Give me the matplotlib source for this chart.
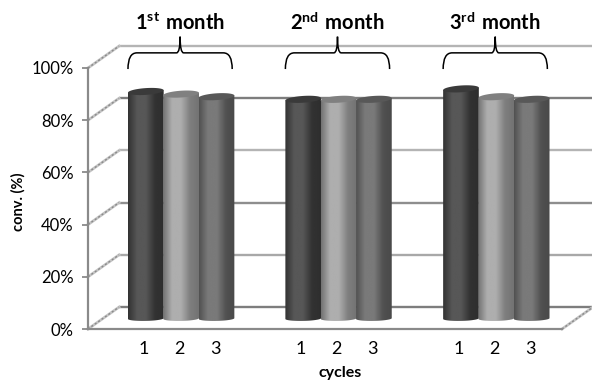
import numpy as np
import matplotlib
matplotlib.use("Agg")
import matplotlib.pyplot as plt
from matplotlib.patches import Polygon, PathPatch
from matplotlib.path import Path

plt.rcParams['font.family'] = ['Lato', 'DejaVu Sans']
plt.rcParams['mathtext.fontset'] = 'custom'
plt.rcParams['mathtext.rm'] = 'Lato'
plt.rcParams['mathtext.bf'] = 'Lato:bold'

# values
months = [r"$\mathbf{1^{st}\ month}$", r"$\mathbf{2^{nd}\ month}$", r"$\mathbf{3^{rd}\ month}$"]
cycles = ["1", "2", "3"]
month_1 = [87, 86, 85]
month_2 = [84, 84, 84]
month_3 = [88, 85, 84]
y_ticks = [0, 20, 40, 60, 80, 100]
grid_colors = ["#7d7d7d", "#a8a8a8", "#8e8e8e", "#b4b4b4", "#7d7d7d", "#b4b4b4"]

# shading of each cycle: edge, middle, far edge
shades = [(0.20, 0.34, 0.20), (0.45, 0.68, 0.50), (0.32, 0.48, 0.32)]
top_shades = ["#3a3a3a", "#808080", "#585858"]

group_x = [1.62, 6.03, 10.45]
XMAX = 13.28
DX, DZ = 0.87, 8.4      # depth of the back wall
BASE = 4.0              # floor level under the bars
ELL = 1.3               # half height of the cylinder ellipse
TILT = 0.9              # the ellipses lean up to the right


def cylinder(ax, xc, value, shade, top_color):
    x = np.array([0, 0.25, 0.5, 0.75, 1.0])
    g = np.interp(np.linspace(0, 1, 64), x, [shade[0], shade[1], shade[1], shade[2], shade[2] * 0.9])
    t = np.linspace(np.pi, 2 * np.pi, 40)
    half = 0.5
    bx = xc + half * np.cos(t)
    by = BASE + 0.9 * np.sin(t) + 0.3 * (bx - xc)
    tx = xc + half * np.cos(t[::-1])
    ty = value + BASE + TILT * (tx - xc)
    body = Polygon(np.column_stack([np.r_[bx, tx], np.r_[by, ty]]), closed=True,
                   transform=ax.transData, facecolor="none", edgecolor="none")
    ax.add_patch(body)
    im = ax.imshow(g[None, :], extent=(xc - half, xc + half, 0, 100), aspect="auto",
                   cmap="gray", vmin=0, vmax=1, zorder=3, clip_on=True)
    im.set_clip_path(body)
    # top of the cylinder
    a = np.linspace(0, 2 * np.pi, 80)
    ex = xc + half * np.cos(a)
    ey = value + BASE + ELL * np.sin(a) + TILT * (ex - xc)
    ax.add_patch(Polygon(np.column_stack([ex, ey]), closed=True, facecolor=top_color,
                         edgecolor="none", zorder=4, clip_on=False))


fig = plt.figure(figsize=(5.92, 3.81), dpi=100)
ax = fig.add_axes([88 / 592, 1 - 329 / 381, 474 / 592, 261 / 381])
ax.patch.set_alpha(0)

# back wall and side wall lines
for v, col in zip(y_ticks, grid_colors):
    ax.plot([DX, XMAX + DX], [v + DZ, v + DZ], color=col, lw=1.7, zorder=1, clip_on=False,
            solid_capstyle="butt")
    ax.plot([0, DX], [v, v + DZ], color="#c4c4c4", lw=2.0, zorder=1, clip_on=False)
    ax.plot([0, DX], [v, v + DZ], color="#8a8a8a", lw=1.0, ls=(0, (1.5, 1.5)), zorder=1, clip_on=False)
ax.plot([XMAX, XMAX + DX], [0, DZ], color="#c4c4c4", lw=2.0, zorder=1, clip_on=False)
ax.plot([XMAX, XMAX + DX], [0, DZ], color="#8a8a8a", lw=1.0, ls=(0, (1.5, 1.5)), zorder=1, clip_on=False)

series = [month_1, month_2, month_3]
tick_pos = []
tick_lab = []
for start, vals in zip(group_x, series):
    for i, v in enumerate(vals):
        cylinder(ax, start + i * 0.99, v, shades[i], top_shades[i])
        tick_pos.append(start + i * 1.0 - 0.06)
        tick_lab.append(cycles[i])

# braces over each month
for start, label in zip(group_x, months):
    left, right = start - 0.5, start + 2 * 0.99 + 0.44
    mid = (left + right) / 2
    low, high, peak = 99.6, 105.8, 112.0
    verts = [(left, low), (left, high), (left + 0.25, high), (mid - 0.1, high),
             (mid, high), (mid, peak), (mid, high), (mid + 0.1, high),
             (right - 0.25, high), (right, high), (right, low)]
    codes = [Path.MOVETO, Path.CURVE3, Path.CURVE3, Path.LINETO,
             Path.CURVE3, Path.CURVE3, Path.CURVE3, Path.CURVE3,
             Path.LINETO, Path.CURVE3, Path.CURVE3]
    ax.add_patch(PathPatch(Path(verts, codes), facecolor="none", edgecolor="black",
                           lw=1.1, zorder=5, clip_on=False))
    ax.text(mid, 113.2, label, ha="center", va="bottom", fontsize=14.5, fontweight="bold")

ax.set_xlim(0, XMAX)
ax.set_ylim(0, 100)
ax.set_yticks(y_ticks)
ax.set_yticklabels([f"{v}%" for v in y_ticks], fontsize=12)
ax.set_xticks(tick_pos)
ax.set_xticklabels(tick_lab, fontsize=13)
ax.tick_params(axis="x", length=0, pad=8.5)
ax.tick_params(axis="y", length=4.5, width=1.3, color="#8a8a8a", pad=6)
for s in ["top", "right"]:
    ax.spines[s].set_visible(False)
for s in ["left", "bottom"]:
    ax.spines[s].set_color("#8a8a8a")
    ax.spines[s].set_linewidth(1.6)
    ax.spines[s].set_zorder(2)

fig.text(18 / 592, 1 - 202 / 381, "conv. (%)", rotation=90, ha="center", va="center",
         fontsize=10.5, fontweight="bold")
fig.text(340 / 592, 1 - 373 / 381, "cycles", ha="center", va="center",
         fontsize=11.5, fontweight="bold")

fig.savefig("out.png", dpi=100)
plt.close(fig)
